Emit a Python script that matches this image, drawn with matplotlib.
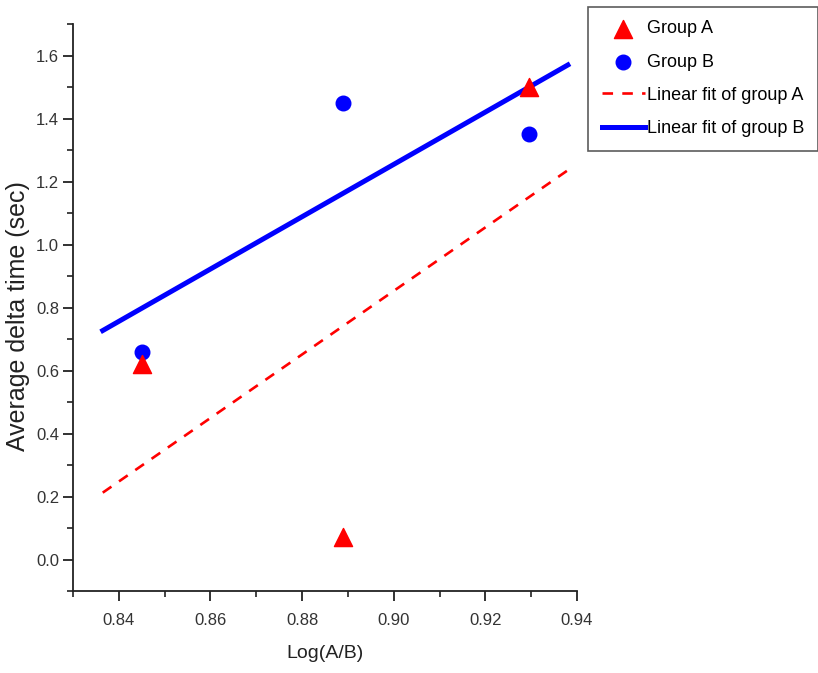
import numpy as np
import matplotlib.pyplot as plt
from matplotlib.ticker import MultipleLocator, FormatStrFormatter

# data
x_vals = [0.845, 0.889, 0.9295]
group_a = [0.62, 0.07, 1.50]
group_b = [0.66, 1.45, 1.35]
fit_range = [0.8365, 0.938]

plt.rcParams['font.family'] = ['Liberation Sans', 'DejaVu Sans']

fig = plt.figure(figsize=(8.18, 6.73), dpi=100)
ax = fig.add_axes([0.0892, 0.1218, 0.6162, 0.8425])

# linear fits
fx = np.array(fit_range)
ka, ba = np.polyfit(x_vals, group_a, 1)
kb, bb = np.polyfit(x_vals, group_b, 1)

ax.scatter(x_vals, group_a, marker='^', s=170, color='#ff0000', zorder=4, label='Group A')
ax.scatter(x_vals, group_b, marker='o', s=110, color='#0000ff', zorder=3, label='Group B')
ax.plot(fx, ka * fx + ba, color='#ff0000', lw=1.9, ls=(0, (4, 3.5)), zorder=2,
        label='Linear fit of group A')
ax.plot(fx, kb * fx + bb, color='#0000ff', lw=3.6, zorder=2, label='Linear fit of group B')

ax.set_xlim(0.83, 0.94)
ax.set_ylim(-0.1, 1.7)
ax.xaxis.set_major_locator(MultipleLocator(0.02))
ax.xaxis.set_minor_locator(MultipleLocator(0.01))
ax.yaxis.set_major_locator(MultipleLocator(0.2))
ax.yaxis.set_minor_locator(MultipleLocator(0.1))
ax.xaxis.set_major_formatter(FormatStrFormatter('%.2f'))
ax.yaxis.set_major_formatter(FormatStrFormatter('%.1f'))

for s in ['top', 'right']:
    ax.spines[s].set_visible(False)
for s in ['left', 'bottom']:
    ax.spines[s].set_linewidth(1.3)
    ax.spines[s].set_color('#222222')

ax.tick_params(which='major', direction='out', length=7, width=1.3, color='#222222',
               labelsize=12, labelcolor='#333333')
ax.tick_params(which='minor', direction='out', length=4, width=1.2, color='#222222')
ax.tick_params(axis='x', pad=9)
ax.tick_params(axis='y', pad=3)

ax.set_xlabel('Log(A/B)', fontsize=14, color='#222222', labelpad=12)
ax.set_ylabel('Average delta time (sec)', fontsize=18, color='#222222')
ax.yaxis.set_label_coords(-0.085, 0.485)

leg = fig.legend(loc='upper left', bbox_to_anchor=(0.719, 0.99), fontsize=13,
                 frameon=True, fancybox=False, edgecolor='#333333', handlelength=2.4,
                 handletextpad=0.1, borderpad=0.75, labelspacing=0.9, borderaxespad=0)
leg.get_frame().set_linewidth(1.2)

fig.savefig('out.png', dpi=100)
